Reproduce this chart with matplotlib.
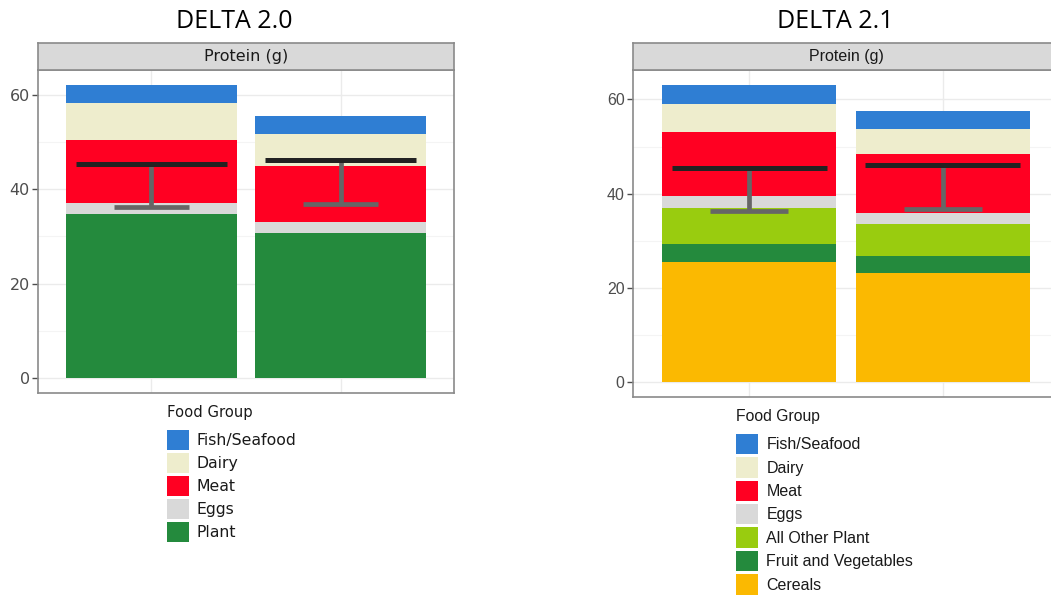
import numpy as np
import matplotlib
matplotlib.use('Agg')
import matplotlib.pyplot as plt
from matplotlib.patches import Patch

W, H = 1051, 595

# DELTA 2.0 protein by food group (g), two stacked bars
groups_20 = ['Fish/Seafood', 'Dairy', 'Meat', 'Eggs', 'Plant']
plant_20 = [34.8, 30.8]
eggs_20 = [2.2, 2.3]
meat_20 = [13.3, 11.9]
dairy_20 = [8.0, 6.7]
fish_20 = [3.8, 3.7]
target_20 = [45.3, 46.1]
lower_20 = [36.2, 36.8]

# DELTA 2.1 protein by food group (g)
groups_21 = ['Fish/Seafood', 'Dairy', 'Meat', 'Eggs', 'All Other Plant',
             'Fruit and Vegetables', 'Cereals']
cereals_21 = [25.5, 23.2]
fruitveg_21 = [3.9, 3.6]
otherplant_21 = [7.5, 6.7]
eggs_21 = [2.6, 2.5]
meat_21 = [13.6, 12.4]
dairy_21 = [6.0, 5.4]
fish_21 = [4.0, 3.7]
target_21 = [45.5, 46.0]
lower_21 = [36.4, 36.8]

colours = {
    'Fish/Seafood': '#2f7ed3',
    'Dairy': '#eeedcd',
    'Meat': '#ff0022',
    'Eggs': '#d9d9d9',
    'Plant': '#248a3d',
    'All Other Plant': '#99cc0f',
    'Fruit and Vegetables': '#248a3d',
    'Cereals': '#fbb901',
}


def px_axes(fig, x0, y0, x1, y1):
    return fig.add_axes([x0 / W, 1 - y1 / H, (x1 - x0) / W, (y1 - y0) / H])


def panel(fig, box, layers, target, lower, font, title, title_x):
    x0, y0, x1, y1 = box
    ax = px_axes(fig, x0, 70, x1, y1)
    strip = px_axes(fig, x0, y0, x1, 70)

    xpos = np.arange(1, 3)
    bottom = np.zeros(2)
    for name, vals in layers:
        ax.bar(xpos, vals, width=0.9, bottom=bottom, color=colours[name],
               edgecolor='none', zorder=2)
        bottom = bottom + np.array(vals)
    top = bottom.max()

    ax.vlines(xpos, lower, target, color='#666666', lw=3.4, zorder=3)
    ax.hlines(lower, xpos - 0.2, xpos + 0.2, color='#666666', lw=3.4,
              zorder=3)
    ax.hlines(target, xpos - 0.4, xpos + 0.4, color='#222222', lw=3.6,
              zorder=4)

    ax.set_xlim(0.4, 2.6)
    ax.set_ylim(-0.05 * top, 1.05 * top)
    ax.set_xticks(xpos)
    ax.set_yticks([0, 20, 40, 60])
    ax.set_yticks([10, 30, 50], minor=True)
    ax.grid(True, which='major', color='#ebebeb', lw=1.0, zorder=0)
    ax.grid(True, which='minor', axis='y', color='#f4f4f4', lw=0.8, zorder=0)
    ax.set_axisbelow(True)
    ax.tick_params(axis='x', length=0, labelbottom=False)
    ax.tick_params(axis='y', which='major', length=4, width=1.0,
                   color='#4d4d4d', labelcolor='#4d4d4d', labelsize=11.5,
                   pad=2)
    ax.tick_params(axis='y', which='minor', length=0)
    for lab in ax.get_yticklabels():
        lab.set_family(font)
    for sp in ax.spines.values():
        sp.set_color('#8a8a8a')
        sp.set_linewidth(1.2)

    strip.set_facecolor('#d9d9d9')
    strip.set_xticks([])
    strip.set_yticks([])
    for sp in strip.spines.values():
        sp.set_color('#8a8a8a')
        sp.set_linewidth(1.2)
    strip.text(0.5, 0.5, 'Protein (g)', ha='center', va='center',
               fontsize=11.5, color='#1a1a1a', family=font,
               transform=strip.transAxes)

    fig.text(title_x / W, 1 - 21 / H, title, ha='center', va='center',
             fontsize=18, family='Open Sans', color='black')
    return ax


def legend(fig, names, x, y, font, size, title_size):
    handles = [Patch(facecolor=colours[n], edgecolor='none') for n in names]
    leg = fig.legend(handles, names, loc='upper left',
                     bbox_to_anchor=(x / W, 1 - y / H), frameon=False,
                     title='Food Group', alignment='left',
                     prop={'family': font, 'size': size},
                     title_fontproperties={'family': font, 'size': title_size},
                     handlelength=1.4, handleheight=1.6, labelspacing=0.18,
                     handletextpad=0.5, borderaxespad=0, borderpad=0)
    leg._legend_box.sep = 7
    for t in leg.get_texts():
        t.set_color('#1a1a1a')
    leg.get_title().set_color('#1a1a1a')
    return leg


fig = plt.figure(figsize=(W / 100, H / 100), dpi=100)

panel(fig, (38, 43, 454, 393),
      [('Plant', plant_20), ('Eggs', eggs_20), ('Meat', meat_20),
       ('Dairy', dairy_20), ('Fish/Seafood', fish_20)],
      target_20, lower_20, 'DejaVu Sans', 'DELTA 2.0', 234)
legend(fig, groups_20, 167, 405, 'DejaVu Sans', 11.3, 10.6)

panel(fig, (633, 43, 1059, 397),
      [('Cereals', cereals_21), ('Fruit and Vegetables', fruitveg_21),
       ('All Other Plant', otherplant_21), ('Eggs', eggs_21),
       ('Meat', meat_21), ('Dairy', dairy_21), ('Fish/Seafood', fish_21)],
      target_21, lower_21, 'Liberation Sans', 'DELTA 2.1', 835)
legend(fig, groups_21, 736, 409, 'Liberation Sans', 11.5, 11.3)

fig.savefig('out.png', dpi=100)
